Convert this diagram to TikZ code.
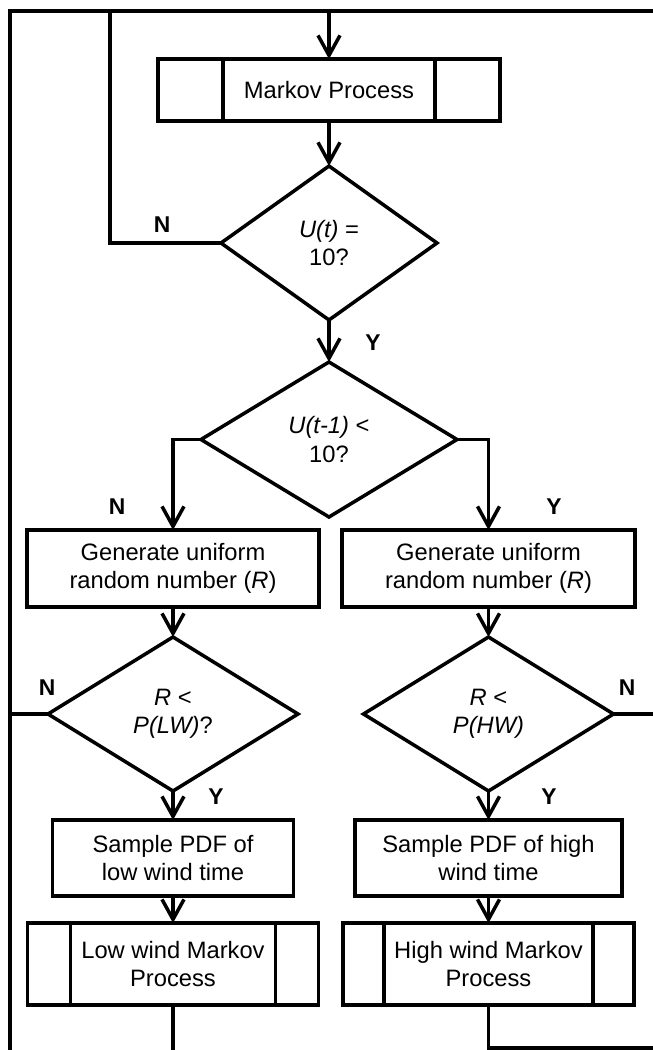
\documentclass[tikz,border=0pt]{standalone}
\usepackage{fontspec}
\setmainfont{Liberation Sans}
\usetikzlibrary{arrows.meta,positioning,shapes.geometric,calc}

\begin{document}
\begin{tikzpicture}[
  line width=2pt,
  font=\fontsize{13.5}{16}\selectfont,
  box/.style={rectangle, draw, inner sep=2pt, outer sep=0pt, align=center},
  decision/.style={diamond, draw, inner sep=0pt, outer sep=0pt, align=center},
  lbl/.style={font=\fontsize{13}{14}\selectfont\bfseries, inner sep=0pt},
  flow/.style={-{Straight Barb[length=0.4cm, width=0.44cm]}},
]
\useasboundingbox (0,0) rectangle (13.06,-21);

% Main column
\node[box, minimum width=6.84cm, minimum height=1.24cm] (mp) at (6.58,-1.80) {Markov Process};
\node[decision, minimum width=4.32cm, minimum height=3.08cm, below=0.9cm of mp] (d1) {\textit{U(t)} =\\10?};
\node[decision, minimum width=5.12cm, minimum height=3.10cm, below=0.84cm of d1] (d2) {\textit{U(t-1)} <\\10?};

% Low wind branch
\node[box, minimum width=5.84cm, minimum height=1.54cm, below=0.26cm of d2.south, xshift=-3.12cm] (gl) {Generate uniform\\random number (\textit{R})};
\node[decision, minimum width=5.0cm, minimum height=3.08cm, below=0.6cm of gl] (d3) {\textit{R} <\\\textit{P(LW)}?};
\node[box, minimum width=4.82cm, minimum height=1.52cm, below=0.58cm of d3] (sl) {Sample PDF of\\low wind time};
\node[box, minimum width=5.82cm, minimum height=1.64cm, below=0.54cm of sl] (ml) {Low wind Markov\\Process};

% High wind branch
\node[box, minimum width=5.86cm, minimum height=1.54cm, below=0.26cm of d2.south, xshift=3.19cm] (gr) {Generate uniform\\random number (\textit{R})};
\node[decision, minimum width=5.0cm, minimum height=3.08cm, below=0.6cm of gr] (d4) {\textit{R} <\\\textit{P(HW)}};
\node[box, minimum width=5.34cm, minimum height=1.52cm, below=0.58cm of d4] (sr) {Sample PDF of high\\wind time};
\node[box, minimum width=5.82cm, minimum height=1.64cm, below=0.54cm of sr] (mh) {High wind Markov\\Process};

% Side bars of the process boxes
\foreach \n/\d in {mp/1.30, ml/0.86, mh/0.82} {
  \draw ([xshift=\d cm]\n.north west) -- ([xshift=\d cm]\n.south west);
  \draw ([xshift=-\d cm]\n.north east) -- ([xshift=-\d cm]\n.south east);
}

% Loop ends
\coordinate (tl) at (0.2,-0.22);
\coordinate (tr) at (13.06,-0.22);
\coordinate (bl) at (0.2,-21);
\coordinate (br) at (13.06,-20.96);
\coordinate (loop) at (2.2,-0.22);

% Connectors
\draw (bl) -- (tl) -- (tr);
\draw[flow] (tl -| mp.north) -- (mp.north);
\draw[flow] (mp) -- (d1);
\draw (d1.west) -| (loop);
\draw[flow] (d1) -- (d2);
\draw[flow] (d2.west) -| (gl.north);
\draw[flow] (d2.east) -| (gr.north);
\draw[flow] (gl) -- (d3);
\draw[flow] (gr) -- (d4);
\draw[flow] (d3) -- (sl);
\draw[flow] (d4) -- (sr);
\draw[flow] (sl) -- (ml);
\draw[flow] (sr) -- (mh);
\draw (d3.west) -- (d3.west -| tl);
\draw (d4.east) -- (d4.east -| tr);
\draw (ml.south) -- (ml.south |- bl);
\draw (mh.south) |- (br);

% Y/N labels
\node[lbl] (n1) at ($(d1.west)+(-1.18,0.36)$) {N};
\node[lbl] (y1) at ($(d1.south)+(0.88,-0.46)$) {Y};
\node[lbl] (n2) at ($(gl.north)+(-1.12,0.46)$) {N};
\node[lbl] (y2) at ($(gr.north)+(1.31,0.46)$) {Y};
\node[lbl] (n3) at ($(d3.west)+(-0.02,0.52)$) {N};
\node[lbl] (n4) at ($(d4.east)+(0.27,0.52)$) {N};
\node[lbl] (y3) at ($(d3.south)+(0.86,-0.12)$) {Y};
\node[lbl] (y4) at ($(d4.south)+(1.21,-0.12)$) {Y};

\end{tikzpicture}
\end{document}
